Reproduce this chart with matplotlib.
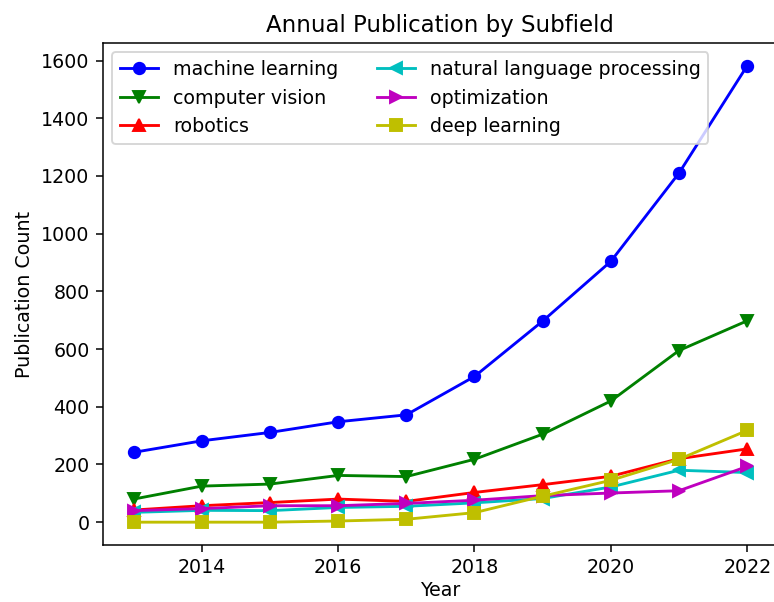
import matplotlib
matplotlib.use('Agg')
import matplotlib.pyplot as plt

# data

years = [2013, 2014, 2015, 2016, 2017, 2018, 2019, 2020, 2021, 2022]
machine_learning = [242, 282, 311, 348, 372, 505, 697, 904, 1210, 1582]
computer_vision = [80, 125, 132, 162, 158, 218, 305, 420, 595, 698]
robotics = [42, 57, 68, 80, 72, 103, 130, 159, 220, 254]
nlp = [34, 41, 40, 51, 55, 67, 82, 122, 180, 172]
optimization = [40, 47, 57, 57, 65, 76, 92, 101, 109, 193]
deep_learning = [0, 0, 0, 4, 10, 33, 90, 145, 218, 318]

# plot lines (figure rendered at higher dpi, as in the reference)

dpi = 137
fig = plt.figure(figsize=(774 / dpi, 602 / dpi), dpi=dpi)
axes = fig.add_axes([0.133, 0.0947, 0.872, 0.834])

axes.plot(years, machine_learning, 'b-o', label='machine learning')
axes.plot(years, computer_vision, 'g-v', label='computer vision')
axes.plot(years, robotics, 'r-^', label='robotics')
axes.plot(years, nlp, 'c-<', label='natural language processing')
axes.plot(years, optimization, 'm->', label='optimization')
axes.plot(years, deep_learning, 'y-s', label='deep learning')

# decoration

axes.set_title('Annual Publication by Subfield')
axes.set_xlabel('Year', labelpad=2)
axes.set_ylabel('Publication Count')
axes.legend(loc='upper left', ncol=2)

fig.savefig('out.png', dpi=dpi)
